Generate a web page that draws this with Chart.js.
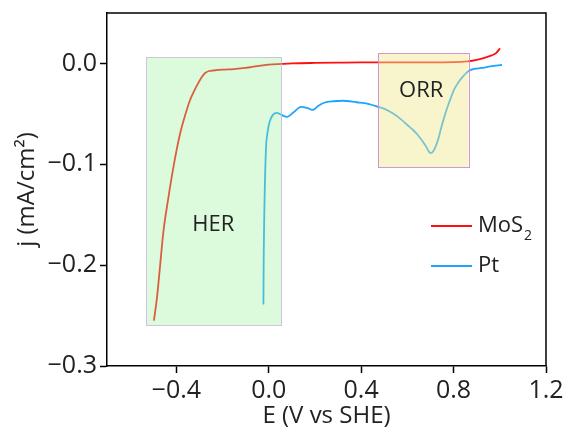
<!DOCTYPE html>
<html>
<head>
<meta charset="utf-8">
<script src="https://cdn.jsdelivr.net/npm/chart.js@4.4.1/dist/chart.umd.min.js"></script>
<style>
  html, body { margin: 0; padding: 0; background: #fff; }
  #wrap { width: 567px; height: 434px; }
</style>
</head>
<body>
<div id="wrap"><canvas id="lsv"></canvas></div>
<script>
// LSV sweeps, potential (V vs SHE) and current density (mA/cm2)
const mosE = [-0.497, -0.484, -0.470, -0.456, -0.435, -0.412, -0.383, -0.360, -0.340, -0.320,
  -0.304, -0.288, -0.275, -0.258, -0.239, -0.200, -0.152, -0.100, -0.050, 0.000,
  0.055, 0.100, 0.200, 0.300, 0.400, 0.500, 0.600, 0.700, 0.800, 0.860,
  0.900, 0.940, 0.965, 0.985, 1.001];
const mosJ = [-0.255, -0.233, -0.200, -0.167, -0.134, -0.102, -0.069, -0.050, -0.036, -0.026,
  -0.019, -0.013, -0.0095, -0.0075, -0.007, -0.0062, -0.0056, -0.0045, -0.0027, -0.0012,
  -0.0005, 0.0, 0.0005, 0.0008, 0.001, 0.001, 0.001, 0.001, 0.0012, 0.002,
  0.0035, 0.006, 0.008, 0.0105, 0.015];

const ptE = [-0.023, -0.022, -0.018, -0.012, -0.005, 0.005, 0.018, 0.035, 0.055, 0.080,
  0.105, 0.140, 0.165, 0.190, 0.215, 0.240, 0.280, 0.320, 0.380, 0.430,
  0.473, 0.510, 0.540, 0.570, 0.600, 0.625, 0.645, 0.665, 0.680, 0.692,
  0.701, 0.712, 0.723, 0.735, 0.745, 0.760, 0.774, 0.790, 0.802, 0.820,
  0.840, 0.865, 0.890, 0.920, 0.960, 1.010];
const ptJ = [-0.239, -0.200, -0.135, -0.085, -0.068, -0.057, -0.051, -0.049, -0.051, -0.053,
  -0.049, -0.043, -0.044, -0.046, -0.042, -0.039, -0.0375, -0.037, -0.0385, -0.040,
  -0.043, -0.046, -0.050, -0.055, -0.061, -0.066, -0.071, -0.077, -0.082, -0.087,
  -0.089, -0.087, -0.082, -0.074, -0.065, -0.053, -0.043, -0.033, -0.026, -0.019,
  -0.013, -0.0075, -0.0055, -0.0045, -0.003, -0.0015];

const xTicks = [-0.4, 0.0, 0.4, 0.8, 1.2];
const yTicks = [-0.3, -0.2, -0.1, 0.0];

// shaded regions: [E from, E to, j bottom, j top]
const regionNames = ['HER', 'ORR'];
const regionBounds = [[-0.53, 0.055, -0.26, 0.006], [0.473, 0.865, -0.103, 0.010]];
const regionFill = ['rgba(155,241,155,0.35)', 'rgba(240,233,144,0.45)'];
const regionEdge = ['rgba(200,180,225,0.8)', 'rgba(205,140,210,0.9)'];
const regionLabelAt = [[-0.24, -0.16], [0.66, -0.027]];

const seriesNames = ['MoS', 'Pt'];
const seriesColors = ['#ff1010', '#1ca4ff'];

const FONT = "'Open Sans', 'Liberation Sans', sans-serif";
const INK = '#222';

const pts = (xs, ys) => xs.map((x, i) => ({ x: x, y: ys[i] }));
const fmt = v => (v < -1e-9 ? '\u2212' : '') + Math.abs(v).toFixed(1);

const overlay = {
  id: 'overlay',
  afterDatasetsDraw(chart) {
    const { ctx, chartArea: a, scales: { x, y } } = chart;
    ctx.save();
    // translucent boxes on top of the curves
    regionBounds.forEach((b, i) => {
      const l = x.getPixelForValue(b[0]), r = x.getPixelForValue(b[1]);
      const t = y.getPixelForValue(b[3]), btm = y.getPixelForValue(b[2]);
      ctx.fillStyle = regionFill[i];
      ctx.fillRect(l, t, r - l, btm - t);
      ctx.strokeStyle = regionEdge[i];
      ctx.lineWidth = 1;
      ctx.strokeRect(Math.round(l) + 0.5, Math.round(t) + 0.5, Math.round(r - l), Math.round(btm - t));
      ctx.fillStyle = INK;
      ctx.font = '22px ' + FONT;
      ctx.textAlign = 'center';
      ctx.textBaseline = 'middle';
      ctx.fillText(regionNames[i], x.getPixelForValue(regionLabelAt[i][0]), y.getPixelForValue(regionLabelAt[i][1]));
    });

    // top and right frame lines
    ctx.strokeStyle = '#000';
    ctx.lineWidth = 1.5;
    ctx.beginPath();
    ctx.moveTo(a.left, a.top);
    ctx.lineTo(a.right, a.top);
    ctx.lineTo(a.right, a.bottom);
    ctx.stroke();

    // legend with subscript
    const lx = 431, ly = [226, 266];
    seriesNames.forEach((name, i) => {
      ctx.strokeStyle = seriesColors[i];
      ctx.lineWidth = 2;
      ctx.beginPath();
      ctx.moveTo(lx, ly[i]);
      ctx.lineTo(lx + 41, ly[i]);
      ctx.stroke();
      ctx.fillStyle = INK;
      ctx.textAlign = 'left';
      ctx.textBaseline = 'middle';
      ctx.font = '22px ' + FONT;
      ctx.fillText(name, lx + 47, ly[i]);
      if (i === 0) {
        const w = ctx.measureText(name).width;
        ctx.font = '14px ' + FONT;
        ctx.fillText('2', lx + 48 + w, ly[i] + 10);
      }
    });
    ctx.restore();
  }
};

new Chart(document.getElementById('lsv'), {
  type: 'scatter',
  data: {
    datasets: [
      { label: 'MoS2', data: pts(mosE, mosJ), borderColor: seriesColors[0] },
      { label: 'Pt', data: pts(ptE, ptJ), borderColor: seriesColors[1] }
    ]
  },
  options: {
    responsive: true,
    maintainAspectRatio: false,
    animation: false,
    devicePixelRatio: 1,
    showLine: true,
    layout: { padding: { top: 13, right: 21, left: 0, bottom: 0 } },
    elements: {
      point: { radius: 0 },
      line: { borderWidth: 1.8, cubicInterpolationMode: 'monotone' }
    },
    plugins: {
      legend: { display: false },
      tooltip: { enabled: false }
    },
    scales: {
      x: {
        type: 'linear',
        min: -0.7,
        max: 1.2,
        afterBuildTicks: s => { s.ticks = xTicks.map(v => ({ value: v })); },
        afterFit: s => { s.height = 68; s.paddingLeft = 0; s.paddingRight = 0; },
        grid: { drawOnChartArea: false, tickLength: 7, tickColor: '#000', tickWidth: 1.5 },
        border: { color: '#000', width: 1.5 },
        ticks: { color: INK, font: { family: FONT, size: 25 }, padding: 3, maxRotation: 0, callback: fmt },
        title: { display: true, text: 'E (V vs SHE)', color: INK, font: { family: FONT, size: 24 }, padding: { top: 3, bottom: 3 } }
      },
      y: {
        min: -0.3,
        max: 0.05,
        afterBuildTicks: s => { s.ticks = yTicks.map(v => ({ value: v })); },
        afterFit: s => { s.width = 107; s.paddingTop = 0; s.paddingBottom = 0; },
        grid: { drawOnChartArea: false, tickLength: 7, tickColor: '#000', tickWidth: 1.5 },
        border: { color: '#000', width: 1.5 },
        ticks: { color: INK, font: { family: FONT, size: 25 }, padding: 3, callback: fmt },
        title: { display: true, text: 'j (mA/cm\u00b2)', color: INK, font: { family: FONT, size: 24 }, padding: { top: 13, bottom: 0 } }
      }
    }
  },
  plugins: [overlay]
});
</script>
</body>
</html>
